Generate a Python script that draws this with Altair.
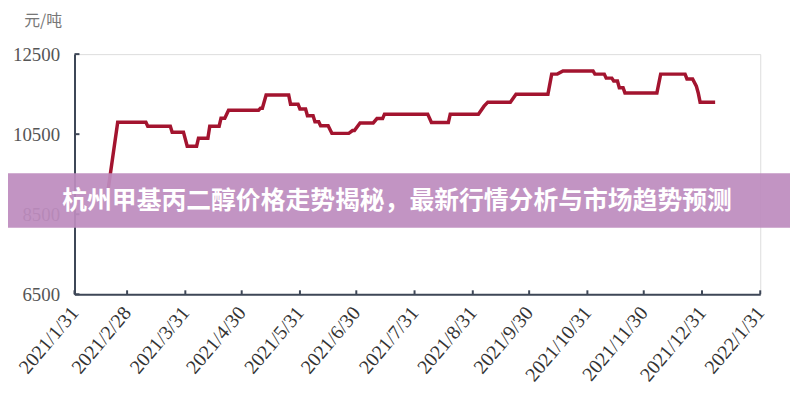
import altair as alt
import pandas as pd

# ---- data ----
dates = [
    "2021-02-18", "2021-02-23", "2021-03-10", "2021-03-11", "2021-03-23", "2021-03-24",
    "2021-03-30", "2021-04-01", "2021-04-06", "2021-04-07", "2021-04-12", "2021-04-13",
    "2021-04-18", "2021-04-19", "2021-04-21", "2021-04-23", "2021-05-09", "2021-05-10",
    "2021-05-11", "2021-05-13", "2021-05-25", "2021-05-26", "2021-05-30", "2021-05-31",
    "2021-06-03", "2021-06-04", "2021-06-07", "2021-06-08", "2021-06-10", "2021-06-11",
    "2021-06-15", "2021-06-17", "2021-06-26", "2021-06-28", "2021-06-29", "2021-07-02",
    "2021-07-09", "2021-07-11", "2021-07-14", "2021-07-15", "2021-08-07", "2021-08-09",
    "2021-08-18", "2021-08-19", "2021-09-03", "2021-09-06", "2021-09-08", "2021-09-20",
    "2021-09-23", "2021-10-10", "2021-10-12", "2021-10-15", "2021-10-18", "2021-11-03",
    "2021-11-04", "2021-11-09", "2021-11-10", "2021-11-13", "2021-11-14", "2021-11-16",
    "2021-11-17", "2021-11-19", "2021-11-20", "2021-12-07", "2021-12-09", "2021-12-22",
    "2021-12-23", "2021-12-26", "2021-12-28", "2021-12-29", "2021-12-30", "2022-01-07",
]
prices = [
    9150, 10800, 10800, 10700, 10700, 10550,
    10550, 10200, 10200, 10400, 10400, 10700,
    10700, 10900, 10900, 11100, 11100, 11150,
    11150, 11480, 11480, 11250, 11250, 11130,
    11130, 10960, 10960, 10810, 10810, 10710,
    10710, 10520, 10520, 10590, 10590, 10780,
    10780, 10890, 10890, 11000, 11000, 10790,
    10790, 11000, 11000, 11200, 11300, 11300,
    11500, 11500, 12000, 12000, 12080, 12080,
    12000, 12000, 11900, 11900, 11830, 11830,
    11660, 11660, 11530, 11530, 12000, 12000,
    11880, 11880, 11700, 11530, 11300, 11300,
]
tick_dates = [
    (2021, 1, 31), (2021, 2, 28), (2021, 3, 31), (2021, 4, 30), (2021, 5, 31),
    (2021, 6, 30), (2021, 7, 31), (2021, 8, 31), (2021, 9, 30), (2021, 10, 31),
    (2021, 11, 30), (2021, 12, 31), (2022, 1, 31),
]
y_ticks = [6500, 8500, 10500, 12500]
unit_label = "元/吨"
banner_text = "杭州甲基丙二醇价格走势揭秘，最新行情分析与市场趋势预测"

# ---- layout / style ----
W, H = 691, 242
AXIS_COLOR = "#3e4757"
LINE_COLOR = "#A3142F"

df = pd.DataFrame({"date": [d + "T00:00:00" for d in dates], "price": prices})
tick_df = pd.DataFrame({"date": [f"{y:04d}-{m:02d}-{d:02d}T00:00:00" for y, m, d in tick_dates]})
ytick_df = pd.DataFrame({"v": y_ticks})
banner_df = pd.DataFrame({"t": [banner_text]})

x_vals = [alt.DateTime(year=y, month=m, date=d) for y, m, d in tick_dates]
x_scale = alt.Scale(domain=[x_vals[0], x_vals[-1]], nice=False)
y_scale = alt.Scale(domain=[y_ticks[0], y_ticks[-1]], nice=False, zero=False)

x_axis = alt.Axis(
    values=x_vals,
    labelExpr="timeFormat(datum.value, '%Y') + '/' + (month(datum.value) + 1) + '/' + date(datum.value)",
    labelAngle=-50, labelAlign="right", labelBaseline="middle", labelPadding=15,
    labelFont="Liberation Serif", labelFontSize=20, labelColor="#333333",
    tickSize=0, domainColor=AXIS_COLOR, domainWidth=2, grid=False, title=None,
    labelOverlap=False, labelBound=False, labelFlush=False,
)
y_axis = alt.Axis(
    values=y_ticks, format="d",
    labelFont="Liberation Serif", labelFontSize=19, labelColor="#555555", labelPadding=15,
    tickSize=0, domainColor=AXIS_COLOR, domainWidth=2, grid=False,
    title=unit_label, titleAngle=0, titleX=-32, titleY=-34, titleAlign="center",
    titleBaseline="middle", titleFont="Noto Sans CJK SC", titleFontSize=16,
    titleFontWeight="normal", titleColor="#777777",
)

line = alt.Chart(df).mark_line(color=LINE_COLOR, strokeWidth=3.5, strokeJoin="miter").encode(
    x=alt.X("date:T", scale=x_scale, axis=x_axis),
    y=alt.Y("price:Q", scale=y_scale, axis=y_axis),
)

xticks = alt.Chart(tick_df).mark_rule(color=AXIS_COLOR, strokeWidth=2).encode(
    x=alt.X("date:T", scale=x_scale),
    y=alt.value(H - 4), y2=alt.value(H),
)
yticks = alt.Chart(ytick_df).mark_rule(color=AXIS_COLOR, strokeWidth=2).encode(
    y=alt.Y("v:Q", scale=y_scale),
    x=alt.value(0), x2=alt.value(5),
)

banner = alt.Chart(banner_df).mark_rect(color="#bd8cbe", opacity=0.93).encode(
    x=alt.value(-67), x2=alt.value(W + 30), y=alt.value(120), y2=alt.value(175),
)
banner_label = alt.Chart(banner_df).mark_text(
    font="Noto Sans CJK SC", fontSize=25, fontWeight="bold", color="white",
    align="center", baseline="middle",
).encode(text="t:N", x=alt.value(325), y=alt.value(148))

chart = alt.layer(line, xticks, yticks, banner, banner_label).properties(
    width=W, height=H,
    padding={"left": 67, "top": 45, "right": 30, "bottom": 97},
    autosize=alt.AutoSizeParams(type="none"),
).configure_view(stroke=None).configure(background="white")

chart.save("out.html", embed_options={"renderer": "svg", "actions": False})
